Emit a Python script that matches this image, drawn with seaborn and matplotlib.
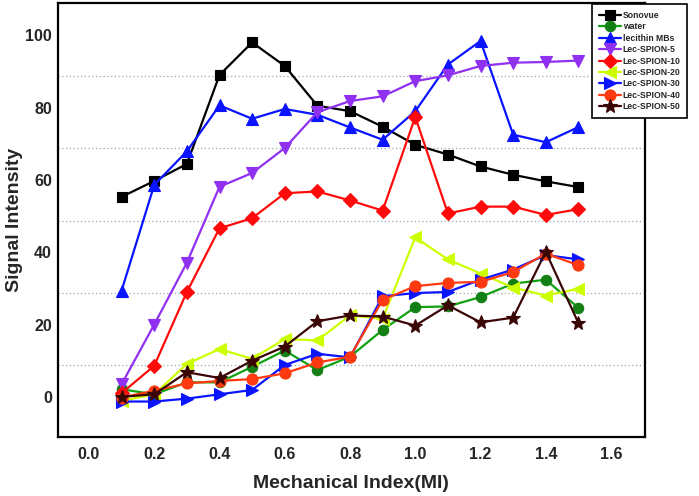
import matplotlib
matplotlib.use("Agg")
import matplotlib.pyplot as plt
import seaborn as sns
import pandas as pd
from matplotlib.ticker import FixedLocator

mi = [0.1, 0.2, 0.3, 0.4, 0.5, 0.6, 0.7, 0.8, 0.9, 1.0, 1.1, 1.2, 1.3, 1.4, 1.5]

sonovue = [55.3, 59.7, 64.4, 89.0, 98.0, 91.5, 80.5, 79.0, 74.7, 69.7, 67.0, 63.7, 61.4, 59.6, 58.0]
water = [2.1, 0.7, 4.0, 4.0, 8.3, 12.8, 7.4, 11.1, 18.5, 24.8, 25.0, 27.6, 31.3, 32.4, 24.6]
lecithin = [29.4, 58.6, 67.9, 80.6, 76.9, 79.6, 78.0, 74.5, 71.1, 79.0, 91.9, 98.4, 72.5, 70.4, 74.6]
lec5 = [3.5, 20.0, 37.1, 58.1, 61.9, 68.8, 78.7, 81.8, 83.1, 87.3, 88.9, 91.5, 92.4, 92.6, 93.0]
lec10 = [1.0, 8.6, 29.0, 46.6, 49.4, 56.3, 56.8, 54.3, 51.5, 77.4, 50.7, 52.6, 52.6, 50.3, 51.9]
lec20 = [-1.1, 0.7, 9.1, 13.2, 10.5, 16.0, 15.6, 22.5, 21.6, 44.1, 38.0, 34.1, 30.2, 28.0, 29.9]
lec30 = [-1.3, -1.3, -0.5, 0.7, 1.9, 8.8, 11.9, 10.9, 27.8, 28.7, 29.0, 32.4, 35.2, 39.2, 38.0]
lec40 = [-0.2, 1.7, 3.7, 4.4, 4.9, 6.5, 9.5, 11.1, 26.8, 30.6, 31.5, 31.8, 34.5, 39.6, 36.4]
lec50 = [0.0, 0.7, 6.8, 5.2, 10.0, 13.9, 20.9, 22.5, 22.2, 19.7, 25.3, 20.6, 21.9, 40.1, 20.4]

names = ["Sonovue", "water", "lecithin MBs", "Lec-SPION-5", "Lec-SPION-10",
         "Lec-SPION-20", "Lec-SPION-30", "Lec-SPION-40", "Lec-SPION-50"]
series = [sonovue, water, lecithin, lec5, lec10, lec20, lec30, lec40, lec50]
colors = ["#000000", "#10a010", "#0a14ff", "#9030f0", "#ff0a0a",
          "#ccff00", "#0a14ff", "#ff3a10", "#3a0505"]
mfc = ["#000000", "#147f14", "#0a14ff", "#9030f0", "#ff0a0a",
       "#ccff00", "#0a14ff", "#ff3a10", "#3a0505"]
markers = ["s", "o", "^", "v", "D", "<", ">", "o", "*"]
msizes = [7, 7.5, 9, 9, 7, 9, 9, 8, 10]

x_ticks = [0.0, 0.2, 0.4, 0.6, 0.8, 1.0, 1.2, 1.4, 1.6]
y_ticks = [0, 20, 40, 60, 80, 100]
grid_levels = [8.7, 28.7, 48.7, 68.7, 88.7]

sns.set_style("white")
plt.rcParams["font.family"] = ["Liberation Sans", "DejaVu Sans"]
plt.rcParams["font.weight"] = "bold"

fig = plt.figure(figsize=(6.99, 4.96), dpi=100)
ax = fig.add_axes([0.0825, 0.1183, 0.8402, 0.8763])

for name, vals, c, fc, m, ms in zip(names, series, colors, mfc, markers, msizes):
    df = pd.DataFrame({"MI": mi, "val": vals})
    sns.lineplot(data=df, x="MI", y="val", ax=ax, color=c, marker=m,
                 markersize=ms, markerfacecolor=fc, markeredgecolor=fc,
                 markeredgewidth=0.8, linewidth=1.6, label=name)

ax.set_xlim(-0.096, 1.704)
ax.set_ylim(-11.2, 109)
ax.set_xticks(x_ticks)
ax.set_xticklabels([f"{v:.1f}" for v in x_ticks])
ax.set_yticks(y_ticks)
ax.set_yticklabels([str(v) for v in y_ticks])
ax.yaxis.set_minor_locator(FixedLocator(grid_levels))
ax.grid(False)
ax.grid(which="minor", axis="y", linestyle=(0, (1, 2)), color="#9aaaaa", linewidth=0.9)
ax.tick_params(axis="both", which="both", length=0)
ax.tick_params(axis="x", pad=7, labelsize=11.5)
ax.tick_params(axis="y", pad=4, labelsize=11.5)
for lab in ax.get_xticklabels() + ax.get_yticklabels():
    lab.set_fontweight("bold")

for sp in ax.spines.values():
    sp.set_visible(True)
    sp.set_color("black")
    sp.set_linewidth(1.6)

ax.set_xlabel("Mechanical Index(MI)", fontsize=14, fontweight="bold", labelpad=9)
ax.set_ylabel("Signal Intensity", fontsize=14, fontweight="bold", labelpad=2)

leg = ax.legend(loc="upper left", bbox_to_anchor=(591.7 / 699, 1 - 4 / 496),
                bbox_transform=fig.transFigure, prop={"size": 6.2, "weight": "bold"},
                frameon=True, fancybox=False, edgecolor="black", framealpha=1,
                handlelength=2.6, handletextpad=0.2, labelspacing=0.28,
                borderpad=0.8, borderaxespad=0)
leg.get_frame().set_linewidth(1.2)

fig.savefig("out.png", dpi=100)
